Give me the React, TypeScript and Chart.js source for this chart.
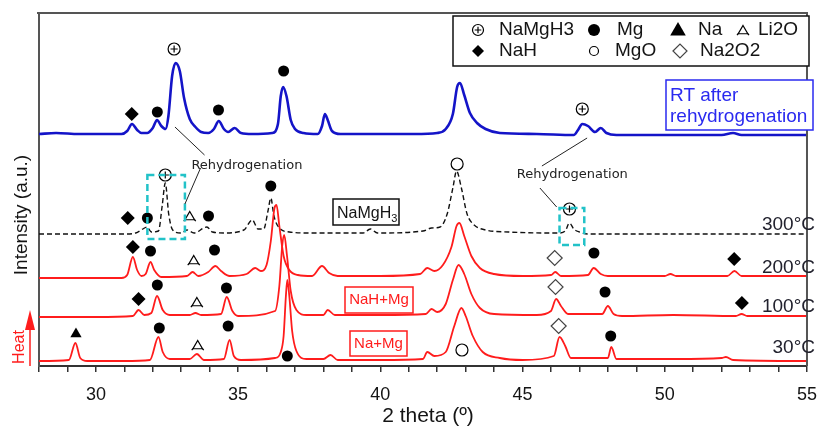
import React, { useEffect, useRef } from 'react';
import { Chart, registerables } from 'chart.js';
Chart.register(...registerables);

// ---- axis ----
const X_MIN = 28;
const X_MAX = 55;
const X_LABEL_STEP = 5;
const Y_MIN = 0;
const Y_MAX = 353;

// ---- series (2θ, stacked intensity a.u.) ----
const rtRehydro: [number, number][] = [
  [28.0, 232], [28.6, 233], [29.4, 232], [30.2, 232], [30.9, 232], [31.1, 235], [31.27, 242], [31.45, 236],
  [31.6, 233], [31.8, 233], [32.0, 238], [32.15, 246], [32.3, 240], [32.45, 237], [32.55, 250], [32.68, 290],
  [32.8, 303], [32.95, 295], [33.1, 268], [33.3, 247], [33.5, 239], [33.7, 234], [33.95, 233], [34.15, 237],
  [34.32, 245], [34.5, 237], [34.65, 234], [34.88, 238], [35.1, 233], [35.5, 232], [36.2, 233], [36.4, 242],
  [36.5, 270], [36.58, 279], [36.7, 270], [36.85, 246], [37.0, 237], [37.3, 233], [37.8, 232], [37.95, 240],
  [38.05, 252], [38.15, 246], [38.3, 235], [38.6, 232], [40.0, 232], [41.2, 232], [42.0, 233], [42.3, 237],
  [42.55, 252], [42.7, 279], [42.8, 283], [42.95, 271], [43.15, 253], [43.4, 243], [43.7, 237], [44.2, 233],
  [45.5, 232], [46.8, 231], [46.95, 236], [47.1, 242], [47.3, 240], [47.55, 234], [47.75, 238], [47.95, 233],
  [48.3, 231], [50.0, 231], [52.0, 231], [52.4, 233], [52.7, 231], [55.0, 231],
];

const t300: [number, number][] = [
  [28.0, 132], [29.5, 132], [31.0, 132], [31.4, 133], [31.65, 137], [31.8, 139], [31.95, 134], [32.2, 135],
  [32.33, 160], [32.44, 183], [32.56, 152], [32.7, 136], [33.0, 133], [33.2, 136], [33.45, 133], [33.9, 139],
  [34.1, 134], [34.5, 133], [35.2, 136], [35.5, 146], [35.7, 137], [35.9, 137], [36.05, 155], [36.15, 168],
  [36.26, 150], [36.45, 138], [36.8, 134], [37.5, 133], [39.4, 133], [39.65, 137], [39.9, 133], [41.5, 135],
  [41.8, 138], [42.1, 139], [42.35, 152], [42.55, 178], [42.68, 195], [42.85, 178], [43.05, 152], [43.3, 141],
  [43.7, 136], [44.5, 134], [46.3, 133], [46.5, 135], [46.65, 143], [46.8, 137], [47.0, 134], [47.3, 132],
  [50.0, 132], [55.0, 132],
];

const t200: [number, number][] = [
  [28.0, 88], [29.5, 88], [30.9, 88], [31.1, 91], [31.3, 109], [31.45, 96], [31.6, 90], [31.75, 92],
  [31.92, 104], [32.05, 96], [32.3, 89], [33.2, 90], [33.4, 94], [33.6, 90], [33.95, 94], [34.2, 100],
  [34.4, 95], [34.7, 90], [35.3, 92], [35.6, 98], [35.8, 95], [36.0, 101], [36.15, 125], [36.28, 158],
  [36.35, 161], [36.45, 140], [36.6, 110], [36.8, 96], [37.1, 91], [37.6, 90], [37.95, 100], [38.2, 93],
  [38.5, 90], [40.0, 90], [41.4, 92], [41.65, 98], [41.9, 95], [42.2, 101], [42.5, 119], [42.68, 140],
  [42.78, 143], [42.95, 130], [43.2, 110], [43.5, 98], [44.0, 92], [45.0, 90], [46.0, 91], [46.15, 94],
  [46.35, 90], [47.3, 91], [47.5, 98], [47.75, 92], [48.0, 90], [50.0, 90], [50.2, 92], [50.4, 90],
  [52.2, 90], [52.45, 95], [52.7, 90], [55.0, 90],
];

const t100: [number, number][] = [
  [28.0, 49], [30.0, 49], [31.3, 50], [31.5, 56], [31.7, 51], [31.95, 53], [32.15, 70], [32.35, 56],
  [32.6, 51], [33.3, 51], [33.5, 53], [33.7, 51], [34.4, 52], [34.6, 69], [34.8, 55], [35.0, 50],
  [36.3, 55], [36.45, 80], [36.55, 120], [36.62, 131], [36.72, 110], [36.85, 75], [37.05, 56], [37.4, 51],
  [38.0, 51], [38.15, 56], [38.4, 51], [40.0, 51], [41.6, 52], [41.8, 57], [42.0, 54], [42.3, 62],
  [42.55, 86], [42.75, 101], [42.95, 92], [43.2, 72], [43.5, 58], [44.0, 52], [45.5, 51], [46.0, 55],
  [46.18, 67], [46.35, 60], [46.6, 52], [47.8, 52], [48.0, 60], [48.2, 52], [48.5, 50], [50.3, 51],
  [52.5, 50], [52.7, 52], [52.9, 50], [55.0, 50],
];

const t30: [number, number][] = [
  [28.0, 5], [29.05, 6], [29.28, 23], [29.45, 8], [29.7, 5], [31.0, 5], [31.9, 6], [32.2, 29],
  [32.35, 14], [32.6, 7], [33.3, 7], [33.55, 12], [33.8, 6], [34.5, 7], [34.7, 26], [34.85, 10],
  [35.1, 6], [36.3, 8], [36.5, 14], [36.6, 30], [36.68, 70], [36.73, 86], [36.8, 70], [36.9, 35],
  [37.05, 15], [37.4, 7], [38.0, 7], [38.25, 11], [38.5, 6], [40.0, 6], [41.5, 7], [41.65, 14],
  [41.9, 10], [42.3, 14], [42.6, 40], [42.85, 58], [43.0, 50], [43.25, 30], [43.6, 14], [44.2, 8],
  [45.0, 6], [46.1, 10], [46.3, 29], [46.5, 20], [46.7, 8], [48.0, 8], [48.12, 19], [48.3, 7],
  [50.4, 7], [52.0, 8], [52.15, 9], [52.4, 6], [55.0, 5],
];

// ---- phase markers ----
const namgh3Pts: [number, number][] = [[32.75, 317], [47.1, 257], [32.44, 191], [46.65, 157]];
const mgPts: [number, number][] = [
  [32.16, 254], [34.31, 256], [36.6, 295], [31.81, 148], [33.96, 150], [36.15, 180], [31.92, 115], [34.17, 116],
  [47.51, 113], [32.16, 81], [34.59, 78], [47.9, 74], [32.23, 38], [34.65, 40], [36.73, 10], [48.1, 30],
];
const naPts: [number, number][] = [[29.3, 32]];
const li2oPts: [number, number][] = [[33.3, 149], [33.44, 105], [33.55, 63], [33.58, 20]];
const nahPts: [number, number][] = [[31.26, 252], [31.12, 148], [31.3, 119], [52.44, 107], [31.5, 67], [52.71, 63]];
const mgoPts: [number, number][] = [[42.7, 202], [42.87, 16]];
const na2o2Pts: [number, number][] = [[46.13, 108], [46.16, 79], [46.27, 40]];

const legendRow1 = ['NaMgH3', 'Mg', 'Na', 'Li2O'];
const legendRow2 = ['NaH', 'MgO', 'Na2O2'];
const tempLabels = ['300°C', '200°C', '100°C', '30°C'];

const FONT = "'Liberation Sans', Arial, sans-serif";
const BLUE = '#1414c8';
const RED = '#ff1c1c';
const CYAN = '#22c2c8';
const INK = '#141414';

const toXY = (a: [number, number][]) => a.map(([x, y]) => ({ x, y }));

function marker(ctx: CanvasRenderingContext2D, kind: string, x: number, y: number, r: number) {
  ctx.save();
  ctx.strokeStyle = '#000';
  ctx.fillStyle = '#000';
  ctx.lineWidth = 1.2;
  ctx.beginPath();
  if (kind === 'namgh3') {
    ctx.arc(x, y, r, 0, Math.PI * 2);
    ctx.stroke();
    ctx.beginPath();
    ctx.moveTo(x - r * 0.6, y); ctx.lineTo(x + r * 0.6, y);
    ctx.moveTo(x, y - r * 0.6); ctx.lineTo(x, y + r * 0.6);
    ctx.stroke();
  } else if (kind === 'mg') {
    ctx.arc(x, y, r, 0, Math.PI * 2); ctx.fill();
  } else if (kind === 'na') {
    ctx.moveTo(x, y - r); ctx.lineTo(x + r * 0.866, y + r * 0.5); ctx.lineTo(x - r * 0.866, y + r * 0.5); ctx.closePath(); ctx.fill();
  } else if (kind === 'li2o') {
    ctx.moveTo(x, y - r); ctx.lineTo(x + r * 0.866, y + r * 0.5); ctx.lineTo(x - r * 0.866, y + r * 0.5); ctx.closePath(); ctx.stroke();
    ctx.beginPath();
    ctx.moveTo(x - r * 0.866, y + r * 0.5); ctx.lineTo(x - r * 1.1, y + r * 0.75);
    ctx.moveTo(x + r * 0.866, y + r * 0.5); ctx.lineTo(x + r * 1.1, y + r * 0.75);
    ctx.stroke();
  } else if (kind === 'nah') {
    ctx.moveTo(x - r, y); ctx.lineTo(x, y - r); ctx.lineTo(x + r, y); ctx.lineTo(x, y + r); ctx.closePath(); ctx.fill();
  } else if (kind === 'mgo') {
    ctx.arc(x, y, r, 0, Math.PI * 2); ctx.stroke();
  } else if (kind === 'na2o2') {
    ctx.strokeStyle = '#444';
    ctx.moveTo(x - r, y); ctx.lineTo(x, y - r); ctx.lineTo(x + r, y); ctx.lineTo(x, y + r); ctx.closePath(); ctx.stroke();
  }
  ctx.restore();
}

const overlayPlugin = {
  id: 'overlay',
  afterDraw(chart: any) {
    const ctx: CanvasRenderingContext2D = chart.ctx;
    const xs = chart.scales.x;
    const ys = chart.scales.y;
    const X = (v: number) => xs.getPixelForValue(v);
    const Y = (v: number) => ys.getPixelForValue(v);
    const ca = chart.chartArea;
    ctx.save();

    // frame: top and right
    ctx.strokeStyle = '#555';
    ctx.lineWidth = 2;
    ctx.beginPath();
    ctx.moveTo(ca.left - 2, ca.top); ctx.lineTo(ca.right, ca.top); ctx.lineTo(ca.right, ca.bottom);
    ctx.stroke();

    // phase markers
    const groups: [string, [number, number][], number][] = [
      ['namgh3', namgh3Pts, 6], ['mg', mgPts, 5.5], ['na', naPts, 6.5], ['li2o', li2oPts, 5.5],
      ['nah', nahPts, 7], ['mgo', mgoPts, 6], ['na2o2', na2o2Pts, 7.5],
    ];
    for (const [k, pts, r] of groups) for (const [a, b] of pts) marker(ctx, k, X(a), Y(b), r);

    // cyan dashed boxes
    ctx.strokeStyle = CYAN;
    ctx.lineWidth = 2.5;
    ctx.setLineDash([7, 4]);
    ctx.strokeRect(X(31.81), Y(191), X(33.13) - X(31.81), Y(127) - Y(191));
    ctx.strokeRect(X(46.3), Y(158), X(47.17) - X(46.3), Y(121) - Y(158));
    ctx.setLineDash([]);

    // rehydrogenation connectors
    ctx.strokeStyle = '#222';
    ctx.lineWidth = 1;
    ctx.beginPath();
    ctx.moveTo(X(32.78), Y(239)); ctx.lineTo(X(33.82), Y(211));
    ctx.moveTo(X(33.68), Y(198)); ctx.lineTo(X(33.13), Y(162));
    ctx.moveTo(X(47.27), Y(228)); ctx.lineTo(X(45.68), Y(200));
    ctx.moveTo(X(45.61), Y(178)); ctx.lineTo(X(46.2), Y(159));
    ctx.stroke();
    ctx.fillStyle = '#222';
    ctx.font = `13px 'DejaVu Sans', Verdana, sans-serif`;
    ctx.textAlign = 'center';
    ctx.textBaseline = 'middle';
    ctx.fillText('Rehydrogenation', X(35.31), Y(200));
    ctx.fillText('Rehydrogenation', X(46.75), Y(191));

    // legend
    ctx.fillStyle = '#fff';
    ctx.fillRect(453, 16, 356, 50);
    ctx.strokeStyle = '#111';
    ctx.lineWidth = 1.5;
    ctx.strokeRect(453, 16, 356, 50);
    const r1y = 30, r2y = 51;
    marker(ctx, 'namgh3', 478, r1y, 5.5);
    marker(ctx, 'mg', 594, r1y, 6);
    marker(ctx, 'na', 678, r1y + 1, 9);
    marker(ctx, 'li2o', 743, r1y + 1, 5.5);
    marker(ctx, 'nah', 478, r2y, 6);
    marker(ctx, 'mgo', 594, r2y, 4.5);
    marker(ctx, 'na2o2', 680, r2y, 7);
    ctx.fillStyle = INK;
    ctx.font = `19px ${FONT}`;
    ctx.textAlign = 'left';
    ctx.textBaseline = 'middle';
    const r1x = [499, 617, 698, 758];
    const r2x = [499, 615, 700];
    legendRow1.forEach((t, i) => ctx.fillText(t, r1x[i], r1y));
    legendRow2.forEach((t, i) => ctx.fillText(t, r2x[i], r2y));

    // RT after rehydrogenation box
    ctx.fillStyle = '#fff';
    ctx.fillRect(666, 80, 147, 50);
    ctx.strokeStyle = '#2a2af0';
    ctx.lineWidth = 1.5;
    ctx.strokeRect(666, 80, 147, 50);
    ctx.fillStyle = '#2a2af0';
    ctx.font = `19px ${FONT}`;
    ctx.fillText('RT after', 670, 96);
    ctx.fillText('rehydrogenation', 670, 117);

    // NaMgH3 label box
    ctx.fillStyle = '#fff';
    ctx.fillRect(333, 199, 66, 26);
    ctx.strokeStyle = '#111';
    ctx.lineWidth = 1.5;
    ctx.strokeRect(333, 199, 66, 26);
    ctx.fillStyle = INK;
    ctx.font = `16px ${FONT}`;
    ctx.textBaseline = 'alphabetic';
    ctx.fillText('NaMgH', 337, 218);
    const w = ctx.measureText('NaMgH').width;
    ctx.font = `11px ${FONT}`;
    ctx.fillText('3', 337 + w, 222);

    // red sample boxes
    ctx.strokeStyle = RED;
    ctx.lineWidth = 1.5;
    ctx.fillStyle = '#fff';
    ctx.fillRect(345, 287, 68, 26);
    ctx.strokeRect(345, 287, 68, 26);
    ctx.fillRect(350, 331, 57, 25);
    ctx.strokeRect(350, 331, 57, 25);
    ctx.fillStyle = RED;
    ctx.font = `15px ${FONT}`;
    ctx.textAlign = 'center';
    ctx.textBaseline = 'middle';
    ctx.fillText('NaH+Mg', 379, 300);
    ctx.fillText('Na+Mg', 378.5, 343.5);

    // temperature labels
    ctx.fillStyle = '#22222e';
    ctx.font = `19px ${FONT}`;
    ctx.textAlign = 'right';
    const ty = [225, 268, 307, 348];
    tempLabels.forEach((t, i) => ctx.fillText(t, 815, ty[i]));

    // axis titles
    ctx.fillStyle = INK;
    ctx.textAlign = 'center';
    ctx.font = `21px ${FONT}`;
    ctx.fillText('2 theta (º)', 428, 416);
    ctx.save();
    ctx.translate(22, 215);
    ctx.rotate(-Math.PI / 2);
    ctx.font = `19px ${FONT}`;
    ctx.fillText('Intensity (a.u.)', 0, 0);
    ctx.restore();

    // heat arrow
    ctx.strokeStyle = RED;
    ctx.fillStyle = RED;
    ctx.lineWidth = 1.5;
    ctx.beginPath();
    ctx.moveTo(30, 366); ctx.lineTo(30, 326);
    ctx.stroke();
    ctx.beginPath();
    ctx.moveTo(30, 310); ctx.lineTo(35, 330); ctx.lineTo(25, 330); ctx.closePath();
    ctx.fill();
    ctx.save();
    ctx.translate(20, 347);
    ctx.rotate(-Math.PI / 2);
    ctx.font = `16px ${FONT}`;
    ctx.fillText('Heat', 0, 0);
    ctx.restore();

    ctx.restore();
  },
};

export default function App() {
  const ref = useRef<HTMLCanvasElement | null>(null);
  useEffect(() => {
    if (!ref.current) return;
    const line = (data: [number, number][], color: string, width: number, dash: number[] = []) => ({
      type: 'line' as const,
      data: toXY(data),
      borderColor: color,
      borderWidth: width,
      borderDash: dash,
      pointRadius: 0,
      fill: false,
      tension: 0.35,
      cubicInterpolationMode: 'monotone' as const,
    });
    const chart = new Chart(ref.current, {
      type: 'line',
      data: {
        datasets: [
          line(t30, RED, 1.8),
          line(t100, RED, 1.8),
          line(t200, RED, 1.8),
          line(t300, '#111', 1.4, [5, 3]),
          line(rtRehydro, BLUE, 2.6),
        ],
      },
      options: {
        animation: false,
        responsive: false,
        maintainAspectRatio: false,
        layout: { padding: { top: 13, right: 11, left: 0, bottom: 0 } },
        plugins: { legend: { display: false }, tooltip: { enabled: false } },
        scales: {
          x: {
            type: 'linear',
            min: X_MIN,
            max: X_MAX,
            afterFit: (s: any) => { s.height = 63; },
            ticks: {
              stepSize: 1,
              autoSkip: false,
              maxRotation: 0,
              padding: 12,
              color: INK,
              font: { family: FONT, size: 18 },
              callback: (v: any) => (Number(v) % X_LABEL_STEP === 0 ? String(v) : ''),
            },
            grid: { drawOnChartArea: false, drawTicks: true, tickLength: 6, color: '#333', lineWidth: 1.5 },
            border: { display: true, color: '#333', width: 2 },
          },
          y: {
            type: 'linear',
            min: Y_MIN,
            max: Y_MAX,
            afterFit: (s: any) => { s.width = 39; },
            ticks: { display: false },
            grid: { display: false, drawTicks: false },
            border: { display: true, color: '#555', width: 2 },
          },
        },
      },
      plugins: [overlayPlugin],
    });
    return () => chart.destroy();
  }, []);
  return (
    <div style={{ position: 'absolute', left: 0, top: 0, width: 829, height: 429, background: '#fff' }}>
      <canvas ref={ref} width={829} height={429} style={{ display: 'block' }} />
    </div>
  );
}
